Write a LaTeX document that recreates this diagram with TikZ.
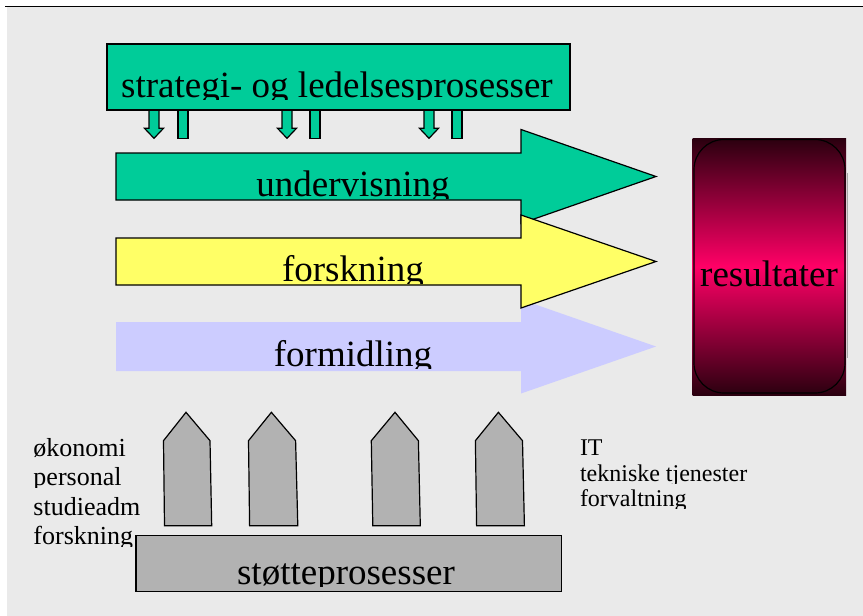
\documentclass[tikz,border=0pt]{standalone}
\usepackage{fontspec}
\setmainfont{Liberation Serif}
\definecolor{bg}{HTML}{EAEAEA}
\definecolor{pgreen}{HTML}{00CC99}
\definecolor{pyellow}{HTML}{FFFF66}
\definecolor{plav}{HTML}{CCCCFF}
\definecolor{pgray}{HTML}{B2B2B2}
\definecolor{resdark}{HTML}{2A000F}
\definecolor{respink}{HTML}{FF0066}
\tikzset{
  txt/.style={inner sep=0pt, outer sep=0pt, text=black},
  outl/.style={draw=black, line width=1.2pt},
}
% name, x, baseline y, anchor, font size, text
\newcommand{\cliptxt}[6]{%
  \begin{scope}
    \clip ({#2-400},{#3-80}) rectangle ({#2+400},{#3+2});
    \node[txt, anchor=#4, font={\fontsize{#5}{#5}\selectfont}] (#1) at (#2,#3) {#6};
  \end{scope}}
\begin{document}
\begin{tikzpicture}[x=1pt,y=-1pt]
\useasboundingbox (0,0) rectangle (863,616);
\fill[white] (0,0) rectangle (863,616);
\fill[bg] (7,7) rectangle (863,616);
\draw[line width=1.5pt] (5,6.5) -- (863,6.5);

% small arrows below strategy box
\foreach \c/\r in {154/178, 287/310, 429/452} {
  \filldraw[fill=pgreen, outl] (\c-5,110) -- (\c+5,110) -- (\c+5,128.3) -- (\c+9.5,128.3)
     -- (\c,138.3) -- (\c-9.5,128.3) -- (\c-5,128.3) -- cycle;
  \filldraw[fill=pgreen, outl] (\r,110) rectangle (\r+10,138.3);
}
% strategy box
\filldraw[fill=pgreen, outl] (107,44) rectangle (570,110);
\cliptxt{strat}{337}{97}{base}{37}{strategi- og ledelsesprosesser}

% undervisning
\filldraw[fill=pgreen, outl] (116,153) -- (521,153) -- (521,129.5) -- (656,176.5)
  -- (521,223.5) -- (521,200) -- (116,200) -- cycle;
\cliptxt{underv}{353}{196}{base}{37}{undervisning}

% formidling
\fill[plav] (116,322) -- (521,322) -- (521,299.5) -- (656,346.5)
  -- (521,393.5) -- (521,371) -- (116,371) -- cycle;
\cliptxt{formidl}{353}{366}{base}{37}{formidling}

% forskning
\filldraw[fill=pyellow, outl] (116,238) -- (521,238) -- (521,215) -- (656,261.5)
  -- (521,308) -- (521,285) -- (116,285) -- cycle;
\cliptxt{forsk}{353}{281}{base}{37}{forskning}

% resultater
\shade[top color=resdark, bottom color=resdark, middle color=respink]
  (692.7,138) rectangle (846,395);
\draw[black, line width=1.2pt, rounded corners=30pt] (694,139.5) rectangle (845,393);
\draw[gray!70, line width=1pt] (847,173) -- (847,358);
\node[txt, anchor=base, font={\fontsize{37}{37}\selectfont}] (result) at (769,286) {resultater};

% support pillars
\foreach \a/\b/\c/\d/\e in {164.5/163.5/186/210/211.7, 249.6/248.5/271.4/295.6/297.8,
                            372.8/371.3/395/418.4/420.3, 476.6/475.4/498.4/522.5/524.4} {
  \filldraw[fill=pgray, outl] (\a,525.7) -- (\b,440.7) -- (\c,412.3) -- (\d,440.7) -- (\e,525.7) -- cycle;
}

% left texts
\cliptxt{okon}{33.5}{456.5}{base west}{26}{økonomi}
\cliptxt{pers}{33.5}{485.5}{base west}{26}{personal}
\cliptxt{stud}{33.5}{515.5}{base west}{26}{studieadm}
\cliptxt{forsk2}{33.5}{544.5}{base west}{26}{forskning}

% right texts
\cliptxt{it}{580}{455.7}{base west}{24}{IT}
\cliptxt{tekn}{580}{481.7}{base west}{24}{tekniske tjenester}
\cliptxt{forv}{580}{506.7}{base west}{24}{forvaltning}

% support box
\filldraw[fill=pgray, outl] (136,535.7) rectangle (561.5,591.7);
\cliptxt{stotte}{346}{584.3}{base}{37}{støtteprosesser}
\end{tikzpicture}
\end{document}
